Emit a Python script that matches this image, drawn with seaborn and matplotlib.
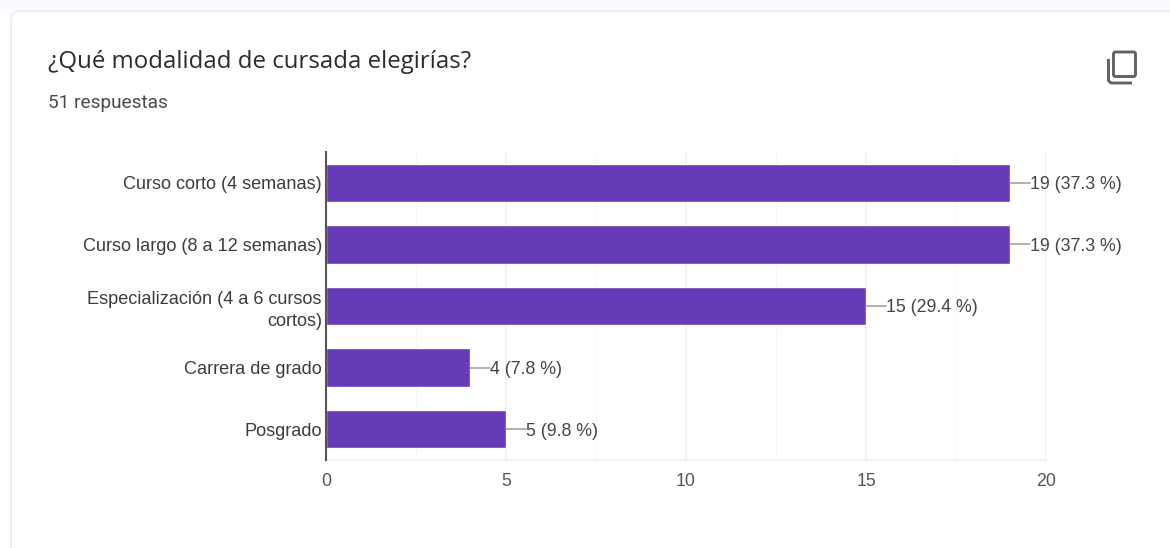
import matplotlib
matplotlib.use("Agg")
import matplotlib.pyplot as plt
from matplotlib.patches import FancyBboxPatch, Rectangle
from matplotlib.ticker import MultipleLocator
import pandas as pd
import seaborn as sns

title = "¿Qué modalidad de cursada elegirías?"
subtitle = "51 respuestas"
categories = [
    "Curso corto (4 semanas)",
    "Curso largo (8 a 12 semanas)",
    "Especialización (4 a 6 cursos\ncortos)",
    "Carrera de grado",
    "Posgrado",
]
counts = [19, 19, 15, 4, 5]
percents = ["37.3", "37.3", "29.4", "7.8", "9.8"]
x_ticks = [0, 5, 10, 15, 20]

W, H = 1170, 548
sns.set_theme(style="white")
plt.rcParams["font.family"] = ["Liberation Sans", "DejaVu Sans"]

fig = plt.figure(figsize=(W / 100, H / 100), dpi=100, facecolor="white")

# Page background and the rounded card sitting on it
bg = fig.add_axes([0, 0, 1, 1], zorder=0)
bg.set_xlim(0, W)
bg.set_ylim(H, 0)
bg.axis("off")
bg.add_patch(Rectangle((0, 0), W, H, color="#ffffff", lw=0))
bg.add_patch(Rectangle((0, 0), W, 10, color="#fcfbff", lw=0))
bg.add_patch(FancyBboxPatch((19, 19), W + 40, H, boxstyle="round,pad=8,rounding_size=9",
                            fc="white", ec="#eeebf7", lw=1.5))
bg.text(48, 62, title, fontsize=17.3, family=["Open Sans", "DejaVu Sans"],
        color="#2b2b2b", va="center", ha="left")
bg.text(48, 103, subtitle, fontsize=13.7, family=["Roboto", "DejaVu Sans"],
        color="#4a4a4a", va="center", ha="left")

# Copy icon at the top right of the card
bg.add_patch(FancyBboxPatch((1113.5, 52), 22, 24.5, boxstyle="round,pad=0,rounding_size=2",
                            fc="none", ec="#5f6368", lw=2.1))
bg.plot([1108.5, 1108.5, 1111, 1132], [59, 80.5, 83, 83], color="#5f6368", lw=2.1,
        solid_capstyle="butt")

# Chart axes
left, right, top, bottom = 326, 1046, 152, 460
ax = fig.add_axes([left / W, 1 - bottom / H, (right - left) / W, (bottom - top) / H], zorder=1)
ax.patch.set_alpha(0)
data = pd.DataFrame({"categoria": categories, "respuestas": counts})
sns.barplot(data=data, y="categoria", x="respuestas", color="#673ab7", saturation=1,
            width=0.625, ax=ax, zorder=3)
ax.set_xlim(0, 20)
ax.set_ylim(4.5, -0.5)
ax.set_xlabel("")
ax.set_ylabel("")
ax.set_xticks(x_ticks)
ax.xaxis.set_minor_locator(MultipleLocator(2.5))
ax.grid(which="major", axis="x", color="#eeeeee", lw=1.1, zorder=0)
ax.grid(which="minor", axis="x", color="#f6f6f6", lw=1.0, zorder=0)
ax.set_axisbelow(True)
for side in ("top", "right"):
    ax.spines[side].set_visible(False)
ax.spines["bottom"].set_color("#eeeeee")
ax.spines["bottom"].set_linewidth(1.1)
ax.spines["left"].set_color("#555555")
ax.spines["left"].set_linewidth(1.5)
ax.spines["left"].set_zorder(5)
ax.tick_params(axis="both", which="both", length=0)
ax.tick_params(axis="x", pad=9, labelsize=12.8, labelcolor="#555555")
ax.tick_params(axis="y", pad=3, labelsize=13.1, labelcolor="#3c3c3c")
for label in ax.get_yticklabels():
    label.set_linespacing(1.35)
    label.set_ha("right")

# Value callouts: a short leader line from the bar end, then the label
leader = 20 / 36
for i, (n, p) in enumerate(zip(counts, percents)):
    ax.plot([n, n + leader], [i, i], color="#9a9a9a", lw=1.1, zorder=4, clip_on=False)
    ax.text(n + leader, i, f"{n} ({p} %)", fontsize=12.8, color="#444444",
            va="center_baseline", ha="left", zorder=6, clip_on=False)

fig.savefig("out.png", dpi=100)
